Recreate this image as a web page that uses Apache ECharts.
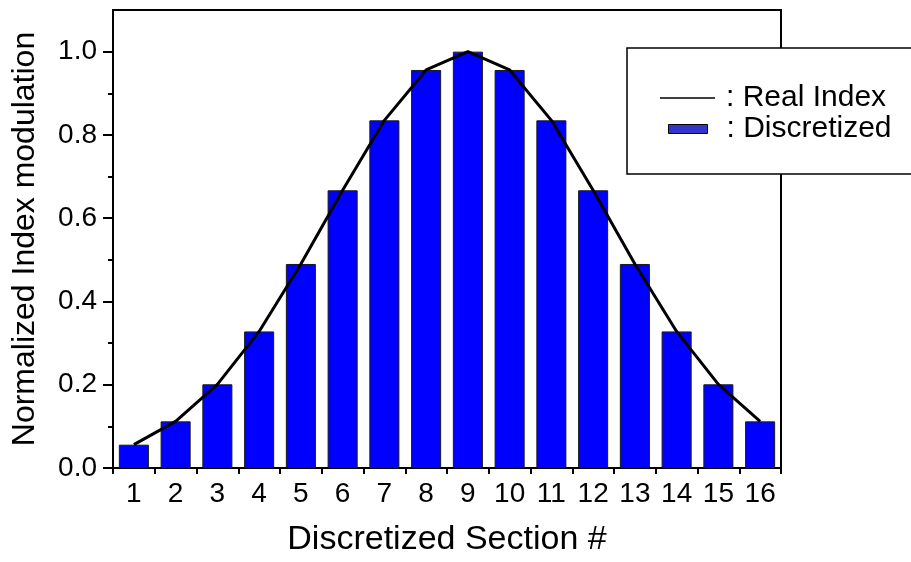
<!DOCTYPE html>
<html>
<head>
<meta charset="utf-8">
<script src="https://cdn.jsdelivr.net/npm/echarts@6/dist/echarts.min.js"></script>
<style>
  html, body { margin: 0; padding: 0; background: #fff; }
  #chart { width: 911px; height: 562px; }
</style>
</head>
<body>
<div id="chart"></div>
<script>
// Section numbers along the grating
const sections = ['1','2','3','4','5','6','7','8','9','10','11','12','13','14','15','16'];
// Discretized (step) index modulation per section
const discretized = [0.056, 0.112, 0.201, 0.328, 0.490, 0.667, 0.835, 0.956, 1.0, 0.956, 0.835, 0.667, 0.490, 0.328, 0.201, 0.112];
// Real (continuous) index modulation at section centres
const realIndex = [0.056, 0.112, 0.201, 0.328, 0.490, 0.667, 0.835, 0.956, 1.0, 0.956, 0.835, 0.667, 0.490, 0.328, 0.201, 0.112];
// Y-axis tick positions
const yMajorTicks = [0, 0.2, 0.4, 0.6, 0.8, 1.0];
const yMinorTicks = [0.1, 0.3, 0.5, 0.7, 0.9];

const FONT = 'Liberation Sans, Arial, sans-serif';
const chart = echarts.init(document.getElementById('chart'), null, { renderer: 'canvas' });

chart.setOption({
  animation: false,
  backgroundColor: '#ffffff',
  grid: {
    left: 113, right: 130, top: 10, bottom: 92,
    show: true, borderColor: '#000', borderWidth: 2, backgroundColor: 'transparent'
  },
  xAxis: {
    type: 'category',
    data: sections,
    boundaryGap: true,
    name: 'Discretized Section #',
    nameLocation: 'middle',
    nameGap: 55,
    nameTextStyle: { fontFamily: FONT, fontSize: 34, color: '#000' },
    axisLine: { lineStyle: { color: '#000', width: 2 } },
    axisTick: { show: true, alignWithLabel: false, length: 6, lineStyle: { color: '#000', width: 2 } },
    axisLabel: { fontFamily: FONT, fontSize: 28, color: '#000', margin: 12, interval: 0 },
    splitLine: { show: false }
  },
  yAxis: [
    {
      type: 'value',
      min: 0, max: 1.1,
      name: 'Normalized Index modulation',
      nameLocation: 'middle',
      nameGap: 72,
      nameRotate: 90,
      nameTextStyle: { fontFamily: FONT, fontSize: 32, color: '#000' },
      axisLine: { show: true, lineStyle: { color: '#000', width: 2 } },
      axisTick: { show: true, length: 10, customValues: yMajorTicks, lineStyle: { color: '#000', width: 2 } },
      axisLabel: {
        fontFamily: FONT, fontSize: 28, color: '#000', margin: 16,
        customValues: yMajorTicks,
        formatter: function (v) { return v.toFixed(1); }
      },
      splitLine: { show: false }
    },
    {
      type: 'value',
      min: 0, max: 1.1,
      position: 'left',
      axisLine: { show: false },
      axisTick: { show: true, length: 5, customValues: yMinorTicks, lineStyle: { color: '#000', width: 2 } },
      axisLabel: { show: false },
      splitLine: { show: false }
    }
  ],
  legend: [
    {
      data: [{ name: 'Real Index', icon: 'rect', itemStyle: { color: '#000', borderWidth: 0 } }],
      left: 655, top: 78,
      itemWidth: 55, itemHeight: 1.5,
      formatter: ': {name}',
      textStyle: { fontFamily: FONT, fontSize: 30, color: '#000', padding: [0, 0, 0, 6] },
      z: 10
    },
    {
      data: [{ name: 'Discretized', icon: 'rect', itemStyle: { color: '#3434cc', borderColor: '#000', borderWidth: 1 } }],
      left: 663, top: 109,
      itemWidth: 39, itemHeight: 9,
      formatter: ': {name}',
      textStyle: { fontFamily: FONT, fontSize: 30, color: '#000', padding: [0, 0, 0, 14] },
      z: 10
    }
  ],
  graphic: [
    {
      type: 'rect',
      z: 5,
      shape: { x: 627, y: 48, width: 300, height: 126 },
      style: { fill: '#fff', stroke: '#000', lineWidth: 1.5 }
    }
  ],
  series: [
    {
      name: 'Discretized',
      type: 'bar',
      data: discretized,
      barWidth: '72%',
      itemStyle: { color: '#0000ff', borderColor: '#1a1a1a', borderWidth: 1 },
      z: 2
    },
    {
      name: 'Real Index',
      type: 'line',
      data: realIndex,
      symbol: 'none',
      smooth: false,
      itemStyle: { color: '#000' },
      lineStyle: { color: '#000', width: 3 },
      z: 3
    }
  ]
});
</script>
</body>
</html>
